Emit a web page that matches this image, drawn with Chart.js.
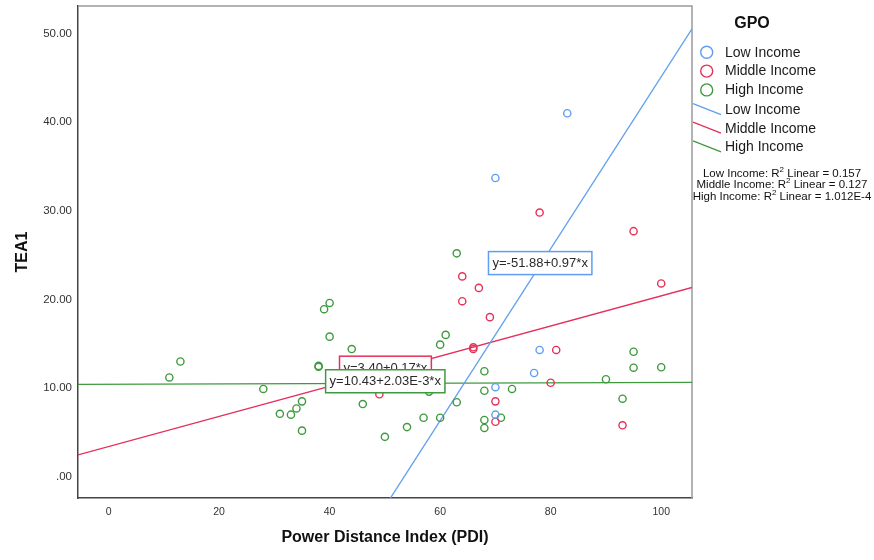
<!DOCTYPE html>
<html>
<head>
<meta charset="utf-8">
<title>TEA1 by Power Distance Index</title>
<script src="https://cdn.jsdelivr.net/npm/chart.js@4/dist/chart.umd.min.js"></script>
<style>
  html, body { margin: 0; padding: 0; background: #fff; }
  canvas { display: block; }
</style>
</head>
<body>
<canvas id="myChart" width="874" height="560"></canvas>
<script>
// data (PDI on x, TEA1 on y)
const groupNames = ['Low Income', 'Middle Income', 'High Income'];
const groupColors = ['#5f9ef0', '#e5315a', '#3f9a3f'];

const lowPdi = [83, 70, 78, 77, 70, 70];
const lowTea = [41.0, 33.7, 14.3, 11.7, 10.1, 7.0];

const middlePdi = [78, 95, 64, 67, 64, 69, 66, 66, 81, 80, 49, 70, 70, 93, 100];
const middleTea = [29.8, 27.7, 22.6, 21.3, 19.8, 18.0, 14.6, 14.4, 14.3, 10.6, 9.3, 8.5, 6.2, 5.8, 21.8];

const highPdi = [63, 61, 60, 44, 40, 39, 40, 13, 38, 38, 11, 28, 35, 34, 33, 31, 35, 46,
  58, 50, 54, 57, 60, 63, 68, 68, 73, 71, 68, 68, 90, 95, 95, 100, 93];
const highTea = [25.2, 16.0, 14.9, 14.4, 19.6, 18.9, 15.8, 13.0, 12.5, 12.4, 11.2, 9.9, 8.5, 7.7, 7.0, 7.1, 5.2, 8.2,
  9.6, 4.5, 5.6, 6.65, 6.65, 8.4, 11.9, 9.7, 9.9, 6.65, 6.4, 5.5, 11.0, 14.1, 12.3, 12.35, 8.8];

// linear fits as printed on the chart
const fitIntercepts = [-51.88, 3.40, 10.43];
const fitSlopes = [0.97, 0.17, 2.03e-3];
const fitLabels = ['y=-51.88+0.97*x', 'y=3.40+0.17*x', 'y=10.43+2.03E-3*x'];
const rSquared = ['0.157', '0.127', '1.012E-4'];

const xTickValues = [0, 20, 40, 60, 80, 100];
const yTickValues = [0, 10, 20, 30, 40, 50];
const yTickLabels = ['.00', '10.00', '20.00', '30.00', '40.00', '50.00'];

{
  'use strict';

  const fontFamily = '"Liberation Sans", Arial, sans-serif';
  Chart.defaults.font.family = fontFamily;

  const xMin = -5.53, xMax = 105.57;
  const yMin = -2.4, yMax = 53.1;

  const toPoints = function(xs, ys){
    return xs.map((x, i) => ({ x: x, y: ys[i] }));
  };

  const pointSets = [
    toPoints(lowPdi, lowTea),
    toPoints(middlePdi, middleTea),
    toPoints(highPdi, highTea),
  ];

  const datasets = [];

  // fit lines first so the circles sit on top
  groupNames.forEach(function(name, i){
    datasets.push({
      type: 'line',
      label: name + ' fit',
      data: [
        { x: xMin, y: fitIntercepts[i] + fitSlopes[i] * xMin },
        { x: xMax, y: fitIntercepts[i] + fitSlopes[i] * xMax },
      ],
      borderColor: groupColors[i],
      borderWidth: 1.3,
      pointRadius: 0,
      fill: false,
      order: 2,
    });
  });

  groupNames.forEach(function(name, i){
    datasets.push({
      type: 'scatter',
      label: name,
      data: pointSets[i],
      borderColor: groupColors[i],
      backgroundColor: 'rgba(0,0,0,0)',
      pointRadius: 3.6,
      borderWidth: 1.4,
      order: 1,
    });
  });

  // fixed axis boxes, no extra room for edge labels
  const pinScale = function(size){
    return function(scale){
      if (scale.isHorizontal()) {
        scale.height = size;
      } else {
        scale.width = size;
      }
      scale.paddingTop = 0;
      scale.paddingBottom = 0;
      scale.paddingLeft = 0;
      scale.paddingRight = 0;
    };
  };

  // gray frame on the top and right of the plot
  const framePlugin = {
    id: 'frame',
    beforeDatasetsDraw(chart){
      const { ctx, chartArea: a } = chart;
      ctx.save();
      ctx.strokeStyle = '#9a9a9a';
      ctx.lineWidth = 1.5;
      ctx.beginPath();
      ctx.moveTo(a.left, a.top);
      ctx.lineTo(a.right, a.top);
      ctx.lineTo(a.right, a.bottom);
      ctx.stroke();
      ctx.restore();
    }
  };

  // equation boxes placed in data coordinates
  const fitLabelPlugin = {
    id: 'fitLabels',
    afterDatasetsDraw(chart, args, opts){
      const { ctx, scales } = chart;
      ctx.save();
      ctx.font = '13px ' + fontFamily;
      ctx.textAlign = 'center';
      ctx.textBaseline = 'middle';
      for (let i of opts.drawOrder) {
        const cx = scales.x.getPixelForValue(opts.anchors[i].x);
        const cy = scales.y.getPixelForValue(opts.anchors[i].y);
        const w = ctx.measureText(fitLabels[i]).width + 8;
        const h = 23;
        ctx.fillStyle = '#fff';
        ctx.fillRect(cx - w / 2, cy - h / 2, w, h);
        ctx.strokeStyle = groupColors[i];
        ctx.lineWidth = 1.5;
        ctx.strokeRect(cx - w / 2, cy - h / 2, w, h);
        ctx.fillStyle = '#2a2a2a';
        ctx.fillText(fitLabels[i], cx, cy + 0.5);
      }
      ctx.restore();
    }
  };

  // SPSS style legend on the right
  const sideLegendPlugin = {
    id: 'sideLegend',
    afterDraw(chart){
      const { ctx, chartArea: a } = chart;
      const left = a.right;
      ctx.save();

      ctx.fillStyle = '#111';
      ctx.font = 'bold 16px ' + fontFamily;
      ctx.textAlign = 'center';
      ctx.textBaseline = 'middle';
      ctx.fillText('GPO', left + 60, 24);

      ctx.font = '14px ' + fontFamily;
      ctx.textAlign = 'left';
      groupNames.forEach(function(name, i){
        const y = 52.3 + i * 18.8;
        ctx.strokeStyle = groupColors[i];
        ctx.lineWidth = 1.4;
        ctx.beginPath();
        ctx.arc(left + 14.7, y, 6, 0, Math.PI * 2);
        ctx.stroke();
        ctx.fillStyle = '#1a1a1a';
        ctx.fillText(name, left + 33, y + 0.5);
      });

      groupNames.forEach(function(name, i){
        const y = 109.6 + i * 18.6;
        ctx.strokeStyle = groupColors[i];
        ctx.lineWidth = 1.3;
        ctx.beginPath();
        ctx.moveTo(left + 1, y - 6);
        ctx.lineTo(left + 29, y + 5);
        ctx.stroke();
        ctx.fillStyle = '#1a1a1a';
        ctx.fillText(name, left + 33, y + 0.5);
      });

      // R squared notes with superscript 2
      const big = '11.5px ' + fontFamily;
      const small = '8px ' + fontFamily;
      groupNames.forEach(function(name, i){
        const y = 173.5 + i * 11.7;
        const head = name + ': R';
        const tail = ' Linear = ' + rSquared[i];
        ctx.font = big;
        const wHead = ctx.measureText(head).width;
        const wTail = ctx.measureText(tail).width;
        ctx.font = small;
        const wSup = ctx.measureText('2').width;
        let x = left + 90 - (wHead + wSup + wTail) / 2;
        ctx.fillStyle = '#111';
        ctx.font = big;
        ctx.fillText(head, x, y);
        x += wHead;
        ctx.font = small;
        ctx.fillText('2', x, y - 4);
        x += wSup;
        ctx.font = big;
        ctx.fillText(tail, x, y);
      });

      ctx.restore();
    }
  };

  const initChart = function(){
    const ctx = document.getElementById('myChart').getContext('2d');
    // eslint-disable-next-line no-unused-vars
    const myChart = new Chart(ctx, {
      type: 'scatter',
      data: { datasets: datasets },
      plugins: [framePlugin, fitLabelPlugin, sideLegendPlugin],
      options: {
        responsive: false,
        devicePixelRatio: 1,
        animation: false,
        events: [],
        layout: {
          padding: { top: 6, right: 182, left: 0, bottom: 0 },
        },
        scales: {
          x: {
            type: 'linear',
            min: xMin,
            max: xMax,
            afterFit: pinScale(62),
            afterBuildTicks: (scale) => {
              scale.ticks = xTickValues.map(v => ({ value: v }));
            },
            grid: { display: false, drawTicks: false },
            border: { display: true, color: '#444', width: 1.5 },
            ticks: {
              padding: 8,
              color: '#333',
              font: { size: 10.5 },
              callback: (value) => String(value),
            },
            title: {
              display: true,
              text: 'Power Distance Index (PDI)',
              color: '#111',
              font: { size: 16, weight: 'bold' },
              padding: { top: 0, bottom: 13 },
            },
          },
          y: {
            type: 'linear',
            min: yMin,
            max: yMax,
            afterFit: pinScale(78),
            afterBuildTicks: (scale) => {
              scale.ticks = yTickValues.map(v => ({ value: v }));
            },
            grid: { display: false, drawTicks: false },
            border: { display: true, color: '#444', width: 1.5 },
            ticks: {
              padding: 6,
              color: '#333',
              font: { size: 11.5 },
              callback: (value) => yTickLabels[yTickValues.indexOf(value)],
            },
            title: {
              display: true,
              text: 'TEA1',
              color: '#111',
              font: { size: 16, weight: 'bold' },
              padding: { top: 13, bottom: 0 },
            },
          },
        },
        plugins: {
          legend: { display: false },
          tooltip: { enabled: false },
          fitLabels: {
            anchors: [
              { x: 78.1, y: 24.1 },
              { x: 50.1, y: 12.3 },
              { x: 50.07, y: 10.77 },
            ],
            drawOrder: [1, 2, 0],
          },
        },
      },
    });
  };

  initChart();
}
</script>
</body>
</html>
